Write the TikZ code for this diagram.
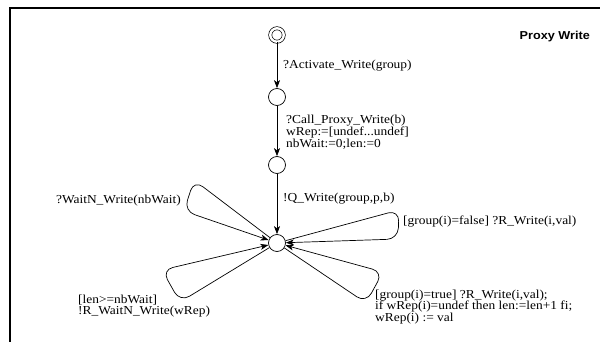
\documentclass[tikz,border=0pt]{standalone}
\usepackage{fontspec}
\setmainfont{Liberation Serif}[FakeStretch=1.1]
\newfontfamily\headfont{Liberation Sans}[FakeStretch=1.1]
\usetikzlibrary{arrows.meta, positioning}

\begin{document}
\begin{tikzpicture}[
  x=1pt, y=-1pt,
  loc/.style={draw, circle, minimum size=17pt, inner sep=0pt, line width=0.7pt},
  initloc/.style={loc, double, double distance=2.4pt, minimum size=13.5pt},
  arrow/.style={-{Stealth[length=8pt, width=6pt, inset=2.2pt]}, line width=0.7pt},
  selfloop/.style={arrow, rounded corners=11pt},
  lbl/.style={inner sep=0pt, align=left, font=\fontsize{12.2}{11.8}\selectfont}
]
\path[use as bounding box] (0,0) rectangle (600,342);
\draw[line width=2pt] (10,342) -- (10,8) -- (600,8);

\node[initloc] (start) at (277,35) {};
\node[loc] (called) at (277,97) {};
\node[loc] (queued) at (277,165) {};
\node[loc] (active) at (277,243) {};

\draw[arrow] (start) -- (called);
\draw[arrow] (called) -- (queued);
\draw[arrow] (queued) -- (active);

% self loops on the active location
\draw[selfloop] (active) -- (194,180) -- (184,211) -- (active);
\draw[selfloop] (active) -- (399,210) -- (398,239) -- (active);
\draw[selfloop] (active) -- (180,302) -- (162,270) -- (active);
\draw[selfloop] (active) -- (366,303) -- (383,272) -- (active);

\node[lbl, anchor=west] (actlbl) at (283,66) {?Activate\_Write(group)};
\node[lbl, anchor=west] (calllbl) at (286,132) {?Call\_Proxy\_Write(b)\\wRep:=[undef...undef]\\nbWait:=0;len:=0};
\node[lbl, anchor=west] (qlbl) at (283,199) {!Q\_Write(group,p,b)};
\node[lbl, anchor=east] (waitlbl) at (181,201) {?WaitN\_Write(nbWait)};
\node[lbl, anchor=west] (falselbl) at (403,222) {[group(i)=false] ?R\_Write(i,val)};
\node[lbl, anchor=west] (lenlbl) at (78,306) {[len>=nbWait]\\!R\_WaitN\_Write(wRep)};
\node[lbl, anchor=west] (truelbl) at (375,307) {[group(i)=true] ?R\_Write(i,val);\\if wRep(i)=undef then len:=len+1 fi;\\wRep(i) := val};
\node[inner sep=0pt, anchor=east, font=\headfont\bfseries\fontsize{11.5}{12}\selectfont] (title) at (590,37) {Proxy Write};
\end{tikzpicture}
\end{document}
